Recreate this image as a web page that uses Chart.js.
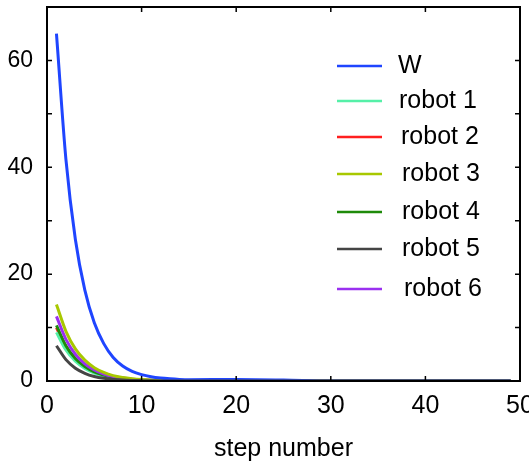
<!DOCTYPE html>
<html>
<head>
<meta charset="utf-8">
<script src="https://cdn.jsdelivr.net/npm/chart.js@4.4.1/dist/chart.umd.min.js"></script>
<style>
  html, body { margin: 0; padding: 0; background: #fff; }
  #wrap { width: 529px; height: 462px; }
</style>
</head>
<body>
<div id="wrap"><canvas id="stepChart"></canvas></div>
<script>
var steps = [1, 2, 3, 4, 5, 6, 7, 8, 9, 10, 11, 12, 13, 14, 15, 20, 25, 30, 35, 40, 45, 49];

var W      = [65, 41.5, 26.5, 17, 10.9, 7, 4.4, 2.8, 1.8, 1.2, 0.8, 0.55, 0.4, 0.3, 0.25, 0.3, 0.2, 0, 0, 0, 0, 0];
var robot1 = [9.1, 5.8, 3.7, 2.35, 1.5, 0.95, 0.6, 0.38, 0.24, 0.15, 0.1, 0.06, 0.04, 0.02, 0.01, 0, 0, 0, 0, 0, 0, 0];
var robot2 = [10.0, 6.4, 4.1, 2.6, 1.65, 1.05, 0.67, 0.43, 0.27, 0.17, 0.11, 0.07, 0.04, 0.03, 0.02, 0, 0, 0, 0, 0, 0, 0];
var robot3 = [14.3, 9.3, 6.0, 3.9, 2.5, 1.6, 1.0, 0.65, 0.42, 0.27, 0.17, 0.1, 0.06, 0.04, 0.02, 0, 0, 0, 0, 0, 0, 0];
var robot4 = [10.4, 6.6, 4.2, 2.7, 1.7, 1.1, 0.7, 0.45, 0.28, 0.18, 0.11, 0.07, 0.04, 0.03, 0.02, 0, 0, 0, 0, 0, 0, 0];
var robot5 = [6.6, 4.0, 2.4, 1.45, 0.85, 0.5, 0.3, 0.18, 0.11, 0.07, 0.04, 0.02, 0.01, 0.01, 0, 0, 0, 0, 0, 0, 0, 0];
var robot6 = [12.1, 7.8, 5.0, 3.2, 2.05, 1.3, 0.85, 0.55, 0.35, 0.22, 0.14, 0.09, 0.05, 0.03, 0.02, 0, 0, 0, 0, 0, 0, 0];

var labels = ['W', 'robot 1', 'robot 2', 'robot 3', 'robot 4', 'robot 5', 'robot 6'];
var series = [W, robot1, robot2, robot3, robot4, robot5, robot6];
var colors = ['#1f45ff', '#55f0a8', '#ff1f1f', '#a8c800', '#1e8a0a', '#454545', '#9a30f0'];
var drawOrder = [1, 5, 6, 2, 4, 0, 3]; // lower = drawn on top

var xTicks = [0, 10, 20, 30, 40, 50];
var yTicks = [0, 20, 40, 60];

var FONT = "'Liberation Sans', Arial, sans-serif";

function toPoints(vals) {
  return vals.map(function (v, i) { return { x: steps[i], y: v }; });
}

var datasets = series.map(function (vals, i) {
  return {
    label: labels[i],
    data: toPoints(vals),
    borderColor: colors[i],
    backgroundColor: colors[i],
    borderWidth: 3,
    pointRadius: 0,
    cubicInterpolationMode: 'monotone',
    fill: false,
    order: drawOrder[i]
  };
});

// box around the plot with inward tick marks on every side
var frame = {
  id: 'frame',
  afterDatasetsDraw: function (chart) {
    var ctx = chart.ctx, a = chart.chartArea;
    var xs = chart.scales.x, ys = chart.scales.y;
    ctx.save();
    ctx.strokeStyle = '#000';
    ctx.lineWidth = 1.5;
    ctx.beginPath();
    for (var v = 0; v <= 50; v += 10) {
      var px = xs.getPixelForValue(v);
      ctx.moveTo(px, a.bottom); ctx.lineTo(px, a.bottom - 5);
      ctx.moveTo(px, a.top); ctx.lineTo(px, a.top + 5);
    }
    for (var w = 0; w <= 70; w += 10) {
      var py = ys.getPixelForValue(w);
      ctx.moveTo(a.left, py); ctx.lineTo(a.left + 5, py);
      ctx.moveTo(a.right, py); ctx.lineTo(a.right - 5, py);
    }
    ctx.stroke();
    ctx.lineWidth = 2;
    ctx.strokeRect(a.left, a.top, a.right - a.left, a.bottom - a.top);
    ctx.restore();
  }
};

// legend drawn inside the plot, upper right
var innerLegend = {
  id: 'innerLegend',
  afterDraw: function (chart) {
    var ctx = chart.ctx;
    var rowY = [66, 101, 137, 174, 212, 249, 289];
    var textX = [398, 399, 401, 402, 402, 402, 404];
    ctx.save();
    ctx.font = '25px ' + FONT;
    ctx.textBaseline = 'middle';
    ctx.fillStyle = '#000';
    chart.data.datasets.forEach(function (ds, i) {
      ctx.strokeStyle = ds.borderColor;
      ctx.lineWidth = 2.5;
      ctx.beginPath();
      ctx.moveTo(337, rowY[i]);
      ctx.lineTo(382, rowY[i]);
      ctx.stroke();
      ctx.fillText(ds.label, textX[i], rowY[i]);
    });
    ctx.restore();
  }
};

function noPadding(s) {
  s.paddingLeft = 0; s.paddingRight = 0; s.paddingTop = 0; s.paddingBottom = 0;
}

new Chart(document.getElementById('stepChart').getContext('2d'), {
  type: 'line',
  data: { datasets: datasets },
  options: {
    responsive: true,
    maintainAspectRatio: false,
    animation: false,
    layout: { padding: { top: 7, right: 9, left: 0, bottom: 0 } },
    plugins: {
      legend: { display: false },
      tooltip: { enabled: false }
    },
    scales: {
      x: {
        type: 'linear',
        min: 0,
        max: 50,
        afterBuildTicks: function (s) { s.ticks = xTicks.map(function (v) { return { value: v }; }); },
        ticks: { color: '#000', font: { family: FONT, size: 25 }, padding: 10, maxRotation: 0 },
        grid: { display: false, drawTicks: false },
        border: { display: false },
        title: { display: true, text: 'step number', color: '#000', font: { family: FONT, size: 25, lineHeight: 1 }, padding: { top: 0, bottom: 0 } },
        afterFit: function (s) { s.height = 81; noPadding(s); }
      },
      y: {
        min: 0,
        max: 70,
        afterBuildTicks: function (s) { s.ticks = yTicks.map(function (v) { return { value: v }; }); },
        ticks: { color: '#000', font: { family: FONT, size: 23 }, padding: 14 },
        grid: { display: false, drawTicks: false },
        border: { display: false },
        afterFit: function (s) { s.width = 47; noPadding(s); }
      }
    }
  },
  plugins: [frame, innerLegend]
});
</script>
</body>
</html>
